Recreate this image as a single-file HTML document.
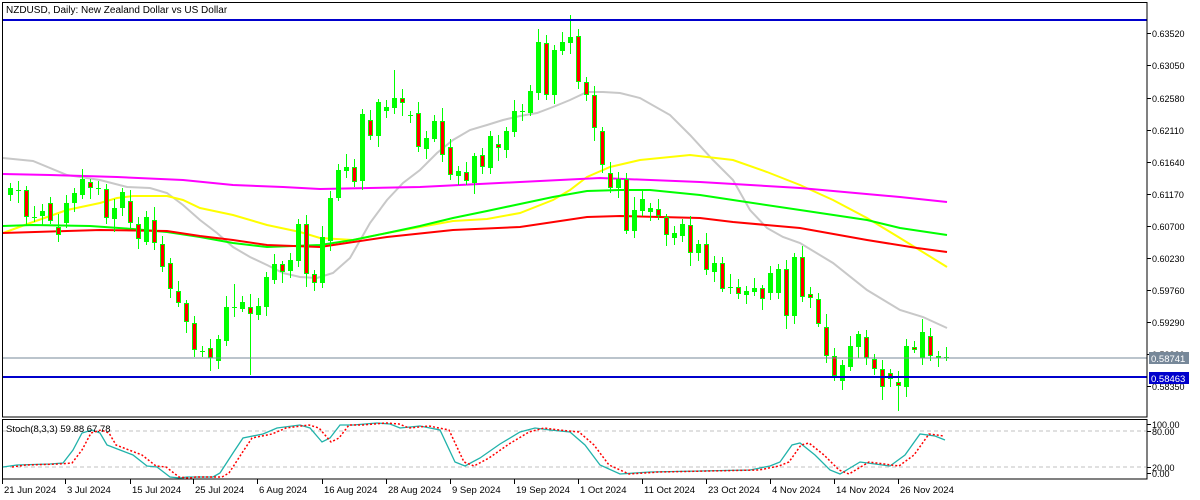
<!DOCTYPE html>
<html><head><meta charset="utf-8"><style>
html,body{margin:0;padding:0;background:#fff;width:1200px;height:500px;overflow:hidden}
svg{display:block}
text{font-family:"Liberation Sans",sans-serif;font-size:9px;fill:#000}
</style></head><body>
<svg id="s" width="1200" height="500" viewBox="0 0 1200 500" xmlns="http://www.w3.org/2000/svg">
<rect x="0" y="0" width="1200" height="500" fill="#fff"/>
<g id="ma" fill="none" stroke-width="2"></g>
<g id="cd"></g>
<line x1="2" y1="358" x2="1147" y2="358" stroke="#778899" stroke-width="1"/>
<line x1="2" y1="20" x2="1147" y2="20" stroke="#0000CC" stroke-width="2"/>
<line x1="2" y1="377" x2="1147" y2="377" stroke="#0000CC" stroke-width="2"/>
<rect x="2.5" y="2.5" width="1144.5" height="414.5" fill="none" stroke="#000" stroke-width="1"/>
<rect x="2.5" y="419.5" width="1144.5" height="59.5" fill="none" stroke="#000" stroke-width="1"/>
<text x="6" y="13" style="font-size:10px">NZDUSD, Daily:  New Zealand Dollar vs US Dollar</text>
<g id="ax"></g>
<line x1="3" y1="431" x2="1146" y2="431" stroke="#c0c0c0" stroke-dasharray="4,3"/>
<line x1="3" y1="467" x2="1146" y2="467" stroke="#c0c0c0" stroke-dasharray="4,3"/>
<g id="st" fill="none"></g>
<text x="6" y="432" style="font-size:9.5px">Stoch(8,3,3) 59.88 67.78</text>
<rect x="1149" y="352" width="40" height="12" fill="#778899"/>
<text x="1151" y="362" style="fill:#fff;font-size:9.5px">0.58741</text>
<rect x="1149" y="372" width="40" height="12" fill="#0000CC"/>
<text x="1151" y="382" style="fill:#fff;font-size:9.5px">0.58463</text>
</svg>
<script>
var NS="http://www.w3.org/2000/svg";
function el(p,t,a){var e=document.createElementNS(NS,t);for(var k in a)e.setAttribute(k,a[k]);p.appendChild(e);return e;}
var D=[[195,188],[190,190],[190,217],[217,217],[216,211],[203,221],[227,235],[223,203],[203,193],[195,179],[182,188],[188,188],[189,218],[219,208],[208,192],[201,223],[224,239],[242,217],[220,243],[244,267],[263,289],[291,303],[303,322],[323,350],[351,351],[348,358],[361,339],[341,307],[307,307],[309,302],[307,314],[315,306],[307,277],[280,264],[264,272],[271,260],[261,224],[224,274],[274,283],[283,237],[241,198],[198,170],[171,167],[167,182],[181,114],[120,136],[136,102],[111,107],[108,98],[98,103],[115,115],[113,147],[149,138],[139,121],[121,155],[147,175],[176,171],[172,181],[183,156],[155,167],[168,136],[144,148],[150,131],[132,111],[111,111],[113,91],[93,42],[43,95],[95,50],[51,42],[43,37],[36,82],[82,95],[95,128],[131,165],[173,188],[188,179],[179,231],[231,210],[211,199],[212,208],[209,216],[217,235],[238,233],[236,224],[225,253],[253,244],[244,270],[272,263],[263,289],[287,287],[287,294],[295,291],[292,288],[288,299],[293,273],[293,269],[269,316],[316,257],[257,297],[294,298],[299,324],[327,356],[356,376],[381,365],[367,346],[347,334],[337,358],[359,369],[369,387],[373,379],[382,386],[387,346],[347,350],[358,332],[336,356],[356,358],[357,357]];
var W=[5,9,4,11,7,6,13,8,5,10,3,7];
var OV={70:[15,null],30:[null,375],111:[null,411],48:[70,null],28:[284,null]};
var cd=document.getElementById('cd');
D.forEach(function(d,i){
 var x=10+8*i,o=d[0],c=d[1],top=Math.min(o,c),bot=Math.max(o,c);
 var hi=top-W[i%12],lo=bot+W[(i+5)%12];
 if(OV[i]){if(OV[i][0]!=null)hi=OV[i][0];if(OV[i][1]!=null)lo=OV[i][1];}
 el(cd,'line',{x1:x+0.5,y1:hi,x2:x+0.5,y2:lo,stroke:'#00FF00','stroke-width':1});
 if(o==c){el(cd,'line',{x1:x-2,y1:o+0.5,x2:x+3,y2:o+0.5,stroke:'#00FF00','stroke-width':1});}
 else if(c<o){el(cd,'rect',{x:x-2,y:top,width:5,height:bot-top,fill:'#00FF00'});}
 else{el(cd,'rect',{x:x-1.5,y:top+0.5,width:4,height:bot-top-1,fill:'#FF0000',stroke:'#00FF00','stroke-width':1});}
});
var ma=document.getElementById('ma');
function pl(g,pts,col,extra){var a={points:pts.map(function(p){return p.join(',')}).join(' '),stroke:col};for(var k in extra)a[k]=extra[k];el(g,'polyline',a);}
pl(ma,[[3,158],[33,161],[67,175],[100,180],[127,187],[150,188],[167,193],[183,205],[200,220],[217,233],[233,247],[250,257],[267,265],[283,273],[300,277],[317,278],[333,273],[350,258],[370,223],[387,200],[403,183],[420,170],[437,153],[453,140],[470,130],[487,125],[503,120],[520,116],[537,113],[553,107],[570,100],[587,92],[603,92],[620,93],[640,98],[670,115],[690,135],[713,160],[733,180],[750,210],[767,228],[783,237],[800,243],[833,263],[867,290],[900,310],[923,317],[947,328]],'#C8C8C8');
pl(ma,[[3,233],[33,222],[67,210],[100,203],[117,198],[133,196],[167,196],[183,200],[200,208],[233,215],[267,225],[300,232],[320,238],[353,240],[387,233],[420,227],[453,221],[487,219],[520,213],[553,200],[570,190],[587,177],[610,167],[640,160],[690,155],[733,160],[767,172],[800,185],[833,200],[867,218],[900,238],[947,267]],'#FFFF00');
pl(ma,[[3,226],[33,225],[90,226],[133,229],[167,232],[200,237],[233,243],[267,247],[320,245],[353,240],[387,233],[420,226],[453,218],[487,211],[520,204],[553,197],[587,191],[620,190],[650,190],[700,195],[733,200],[800,210],[867,220],[900,228],[947,235]],'#00FF00');
pl(ma,[[3,233],[67,231],[100,230],[167,231],[200,236],[233,240],[267,245],[320,247],[387,237],[453,230],[520,227],[587,217],[620,216],[700,218],[733,222],[800,228],[867,240],[917,248],[947,252]],'#FF0000');
pl(ma,[[3,174],[50,175],[117,177],[183,180],[233,185],[283,187],[320,189],[420,187],[520,182],[600,178],[700,182],[800,188],[900,197],[947,202]],'#FF00FF');
var st=document.getElementById('st');
var T=[[3,467],[17,465],[50,464],[63,463],[73,450],[82,433],[92,430],[100,433],[107,445],[120,450],[133,455],[147,466],[157,467],[170,477],[180,478],[187,477],[213,477],[220,473],[233,453],[243,438],[263,434],[277,428],[300,425],[310,428],[322,442],[330,438],[340,425],[353,425],[377,423],[390,424],[400,428],[420,426],[440,430],[455,462],[465,466],[480,458],[500,444],[520,432],[535,428],[550,430],[570,432],[585,445],[600,465],[620,474],[650,472],[700,471],[750,470],[770,466],[780,462],[792,445],[800,443],[815,455],[830,470],[840,474],[860,462],[875,464],[890,466],[905,455],[920,434],[935,436],[945,440]];
pl(st,T,'#20B2AA',{'stroke-width':1.3});
pl(st,T.map(function(p,i){return [p[0]+9,p[1]]}).filter(function(p){return p[0]<=947}),'#FF0000',{'stroke-width':1.5,'stroke-dasharray':'2,2'});
var ax=document.getElementById('ax');
var P=[["0.63520",33],["0.63050",65],["0.62580",98],["0.62110",130],["0.61640",162],["0.61170",194],["0.60700",226],["0.60230",258],["0.59760",290],["0.59290",322],["0.58820",354],["0.58350",386]];
P.forEach(function(p){el(ax,'line',{x1:1147,y1:p[1]+0.5,x2:1151,y2:p[1]+0.5,stroke:'#000'});var t=el(ax,'text',{x:1152,y:p[1]+4});t.textContent=p[0];});
[["100.00",424],["80.00",431],["20.00",467],["0.00",473]].forEach(function(p){el(ax,'line',{x1:1147,y1:p[1]+0.5,x2:1151,y2:p[1]+0.5,stroke:'#000'});var t=el(ax,'text',{x:1152,y:p[1]+4});t.textContent=p[0];});
var Dt=[["21 Jun 2024",2],["3 Jul 2024",65],["15 Jul 2024",130],["25 Jul 2024",193],["6 Aug 2024",257],["16 Aug 2024",322],["28 Aug 2024",386],["9 Sep 2024",450],["19 Sep 2024",514],["1 Oct 2024",578],["11 Oct 2024",642],["23 Oct 2024",706],["4 Nov 2024",770],["14 Nov 2024",834],["26 Nov 2024",898]];
Dt.forEach(function(d){el(ax,'line',{x1:d[1]+0.5,y1:479,x2:d[1]+0.5,y2:484,stroke:'#000'});var t=el(ax,'text',{x:d[1]+2,y:493,style:'font-size:9.5px'});t.textContent=d[0];});
</script>
</body></html>
